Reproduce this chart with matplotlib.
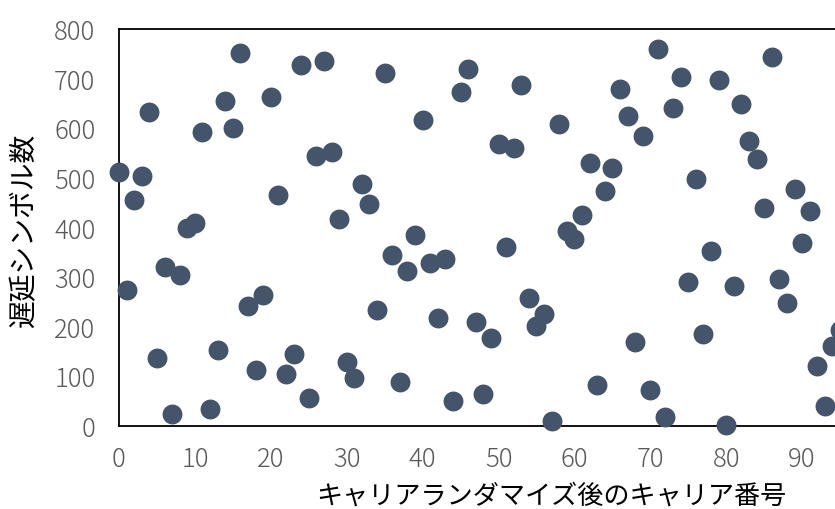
'''
Scatter of delay symbols per carrier after carrier randomisation.
'''
import matplotlib
matplotlib.use('Agg')
import matplotlib.pyplot as plt

plt.rcParams['font.family'] = ['Noto Sans CJK JP', 'DejaVu Sans']

# carrier number after randomisation
carrier = list(range(96))
# delay in symbols
delay = [
    511, 273, 455, 503, 632, 136, 320, 23, 303, 398,
    408, 592, 33, 152, 654, 600, 751, 241, 112, 263,
    662, 465, 104, 144, 727, 56, 543, 735, 551, 416,
    128, 96, 487, 447, 233, 711, 344, 88, 312, 384,
    616, 328, 217, 337, 49, 672, 719, 209, 64, 177,
    568, 360, 560, 687, 257, 201, 225, 9, 608, 392,
    376, 424, 529, 82, 473, 520, 680, 624, 168, 585,
    73, 760, 17, 640, 703, 289, 497, 184, 352, 697,
    1, 281, 648, 575, 537, 440, 743, 295, 248, 478,
    368, 432, 120, 40, 161, 192,
]
xticks = list(range(0, 91, 10))
yticks = list(range(0, 801, 100))

xlabel = 'キャリアランダマイズ後のキャリア番号'
ylabel = '遅延シンボル数'

W, H = 835, 510
fig = plt.figure(figsize=(W / 100, H / 100), dpi=100)
# the plot area runs past the right edge of the picture, as in the reference
ax = fig.add_axes([119 / W, (H - 426.7) / H, 759 / W, 396.7 / H])

ax.scatter(carrier, delay, s=205, color='#44546A', linewidths=0,
           clip_on=False, zorder=3)

ax.set_xlim(0, 100)
ax.set_ylim(0, 800)
ax.set_xticks(xticks)
ax.set_yticks(yticks)
ax.tick_params(axis='both', length=0, labelsize=18.5, labelcolor='#595959')
ax.tick_params(axis='y', pad=17)
ax.tick_params(axis='x', pad=14)
for lab in ax.get_xticklabels() + ax.get_yticklabels():
    lab.set_fontweight('light')

for side in ('left', 'bottom', 'top', 'right'):
    ax.spines[side].set_color('black')
    ax.spines[side].set_linewidth(1.3)

ax.set_xlabel(xlabel, fontsize=18.8, color='black')
ax.xaxis.set_label_coords(0.569, -0.176)
ax.xaxis.label.set_va('center')
ax.set_ylabel(ylabel, fontsize=20, color='black')
ax.yaxis.set_label_coords(-0.125, 0.493)
ax.yaxis.label.set_va('center')

fig.savefig('out.png', dpi=100)
